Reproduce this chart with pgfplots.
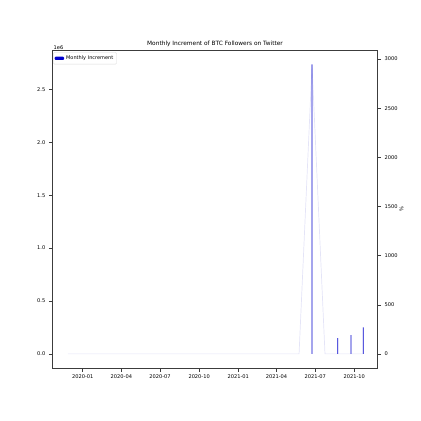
\documentclass[border=0pt]{standalone}
\usepackage{pgfplots}
\pgfplotsset{compat=1.18}
\usepackage{fontspec}
\setmainfont{DejaVu Sans}
\definecolor{barblue}{RGB}{0,0,205}
\definecolor{linelav}{RGB}{228,228,247}
\definecolor{spine}{RGB}{60,60,60}
\begin{document}
\begin{tikzpicture}[x=1pt,y=1pt]
\path[use as bounding box] (0,0) rectangle (421,421);
\pgfplotsset{
  common/.style={
    at={(52.3pt,52.7pt)}, anchor=south west,
    scale only axis, width=325.4pt, height=317.6pt,
    xmin=-71.5, xmax=694,
    axis line style={spine, line width=0.5pt},
    tick style={spine, line width=0.4pt},
    major tick length=3.5pt,
    tick align=outside,
    scaled y ticks=false, scaled x ticks=false,
    tick label style={font=\fontsize{5.1}{6}\selectfont},
    /pgf/number format/assume math mode=true,
  }
}
% right axis: percentage line
\begin{axis}[common,
  axis x line=none,
  axis y line*=right,
  ymin=-146.9, ymax=3084.9,
  ytick={0,500,1000,1500,2000,2500,3000},
  yticklabels={0,500,1000,1500,2000,2500,3000},
  ylabel={\%},
  ylabel style={font=\fontsize{5.1}{6}\selectfont},
  ylabel shift=-5pt,
]
\addplot[linelav, line width=0.7pt, mark=none] coordinates {
(-35,0) (-5,0) (26,0) (56,0) (86,0) (117,0) (147,0) (178,0) (208,0) (239,0)
(270,0) (300,0) (331,0) (361,0) (392,0) (422,0) (451,0) (482,0) (509,0)
(539.5,2938) (570,0) (600,0) (631,0) (660,0)
};
\end{axis}
% left axis: monthly increment bars
\begin{axis}[common,
  axis y line*=left,
  axis x line*=box,
  ymin=-136500, ymax=2866000,
  ytick={0,500000,1000000,1500000,2000000,2500000},
  yticklabels={0.0,0.5,1.0,1.5,2.0,2.5},
  xtick={0,91,182,274,366,456,547,639},
  xticklabels={2020-01,2020-04,2020-07,2020-10,2021-01,2021-04,2021-07,2021-10},
  xticklabel style={yshift=0.3pt},
  xtick pos=bottom,
  title={Monthly Increment of BTC Followers on Twitter},
  title style={font=\fontsize{5.85}{7}\selectfont, yshift=-5.5pt},
  legend style={at={(0.003,0.995)}, anchor=north west, draw=black!15, rounded corners=1pt,
    font=\fontsize{5}{6}\selectfont\upshape, inner sep=1.2pt, row sep=0pt},
  legend cell align=left,
  legend image code/.code={\fill[barblue] (0pt,-1.6pt) rectangle (9.5pt,1.6pt);},
]
\addplot[ybar, bar width=1.6, fill=barblue, draw=none, bar shift=0pt] coordinates {
(539.5,2737000) (600,148000) (631,176000) (660,251000)
};
\addlegendentry{Monthly Increment}
\end{axis}
\node[font=\fontsize{5.1}{6}\selectfont, anchor=south west, inner sep=0pt] at (53.5,371.5) {1e6};
\end{tikzpicture}
\end{document}
